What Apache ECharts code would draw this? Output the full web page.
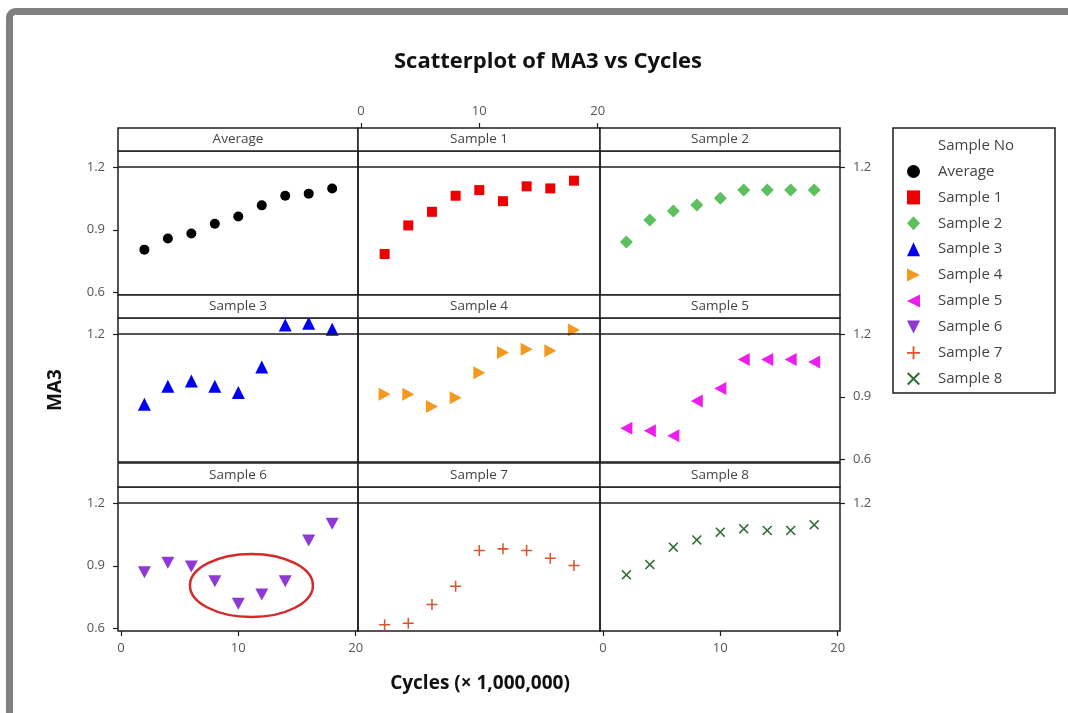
<!DOCTYPE html>
<html>
<head>
<meta charset="utf-8">
<title>Scatterplot of MA3 vs Cycles</title>
<script src="https://cdn.jsdelivr.net/npm/echarts@6/dist/echarts.min.js"></script>
<style>
  html, body { margin: 0; padding: 0; background: #fff; }
  #chart { width: 1068px; height: 713px; }
</style>
</head>
<body>
<div id="chart"></div>
<script>
// ---- data -------------------------------------------------------------
const cycles = [2, 4, 6, 8, 10, 12, 14, 16, 18];          // x 1,000,000
const panelNames = ['Average', 'Sample 1', 'Sample 2', 'Sample 3', 'Sample 4',
                    'Sample 5', 'Sample 6', 'Sample 7', 'Sample 8'];
const averageMA3 = [0.805, 0.858, 0.882, 0.929, 0.964, 1.017, 1.063, 1.073, 1.098];
const sample1MA3 = [0.784, 0.921, 0.986, 1.063, 1.090, 1.037, 1.108, 1.098, 1.135];
const sample2MA3 = [0.841, 0.947, 0.990, 1.019, 1.051, 1.090, 1.090, 1.090, 1.090];
const sample3MA3 = [0.864, 0.951, 0.975, 0.951, 0.920, 1.043, 1.244, 1.252, 1.223];
const sample4MA3 = [0.912, 0.912, 0.854, 0.896, 1.015, 1.112, 1.128, 1.120, 1.220];
const sample5MA3 = [0.749, 0.738, 0.714, 0.880, 0.940, 1.078, 1.078, 1.078, 1.067];
const sample6MA3 = [0.869, 0.914, 0.897, 0.826, 0.718, 0.763, 0.826, 1.021, 1.101];
const sample7MA3 = [0.618, 0.625, 0.715, 0.802, 0.973, 0.981, 0.973, 0.936, 0.901];
const sample8MA3 = [0.857, 0.906, 0.989, 1.024, 1.061, 1.077, 1.069, 1.069, 1.096];
const xTicks = [0, 10, 20];
const yTicks = [0.6, 0.9, 1.2];
const referenceMA3 = 1.2;

const panelValues = [averageMA3, sample1MA3, sample2MA3, sample3MA3, sample4MA3,
                     sample5MA3, sample6MA3, sample7MA3, sample8MA3];

// ---- look -------------------------------------------------------------
const FONT = '"Open Sans", "Noto Sans", sans-serif';
const INK = '#1e1e1e';
const LABEL = '#555';

const markers = [
  { symbol: 'circle', size: 10, color: '#000000' },
  { symbol: 'rect', size: 10, color: '#ee0000' },
  { symbol: 'diamond', size: 13, color: '#5cc05c' },
  { symbol: 'triangle', size: 13, color: '#0000ee' },
  { symbol: 'path://M0,0L10,5L0,10Z', size: [12, 13], color: '#f39a1e' },
  { symbol: 'path://M10,0L0,5L10,10Z', size: [12, 13], color: '#ee1dee' },
  { symbol: 'path://M0,0L10,0L5,10Z', size: [13, 12], color: '#8e38d6' },
  { symbol: 'path://M4.3,0H5.7V4.3H10V5.7H5.7V10H4.3V5.7H0V4.3H4.3Z', size: 11, color: '#d8552e' },
  { symbol: 'path://M1.1,0L5,3.9L8.9,0L10,1.1L6.1,5L10,8.9L8.9,10L5,6.1L1.1,10L0,8.9L3.9,5L0,1.1Z', size: 10, color: '#2f6f35' }
];

// panel layout (3 x 3 lattice)
const COL_LEFT = [118, 358, 600];
const COL_WIDTH = [240, 242, 240];
const STRIP_TOP = [128, 295, 463];
const ROW_TOP = [151, 318, 487];
const PANEL_H = 144;
const X_MIN = -0.25, X_MAX = 20.2;
const Y_MIN = 0.588, Y_MAX = 1.277;

// red ellipse drawn around the dip in the Sample 6 panel (data units)
const dipHighlight = { x: 11.12, y: 0.806, rx: 5.24, ry: 0.151 };

const grids = [], xAxes = [], yAxes = [], series = [], graphics = [];

const tickStyle = { show: true, length: 5, lineStyle: { color: INK, width: 1.2 } };
const labelStyle = { color: LABEL, fontSize: 13, fontFamily: FONT };

for (let i = 0; i < 9; i++) {
  const row = Math.floor(i / 3), col = i % 3;
  grids.push({
    left: COL_LEFT[col], top: ROW_TOP[row], width: COL_WIDTH[col], height: PANEL_H,
    show: true, borderColor: INK, borderWidth: 1.5, backgroundColor: 'transparent',
    containLabel: false
  });

  // x axis: labels on top of the middle column, at the bottom of the outer columns
  const xa = {
    type: 'value', gridIndex: i, min: X_MIN, max: X_MAX,
    splitLine: { show: false }, axisLine: { show: false, onZero: false },
    axisTick: { show: false }, axisLabel: { show: false }
  };
  if (row === 0 && col === 1) {
    xa.position = 'top';
    xa.offset = ROW_TOP[0] - STRIP_TOP[0];
    xa.axisTick = Object.assign({ customValues: xTicks }, tickStyle);
    xa.axisLabel = Object.assign({ show: true, customValues: xTicks, margin: 10 }, labelStyle);
  } else if (row === 2 && col !== 1) {
    xa.position = 'bottom';
    xa.axisTick = Object.assign({ customValues: xTicks }, tickStyle);
    xa.axisLabel = Object.assign({ show: true, customValues: xTicks, margin: 11 }, labelStyle);
  }
  xAxes.push(xa);

  // y axis: full scale alternates left/right by row, reference value on both sides
  const ya = {
    type: 'value', gridIndex: i, min: Y_MIN, max: Y_MAX,
    splitLine: { show: false }, axisLine: { show: false, onZero: false },
    axisTick: { show: false }, axisLabel: { show: false }
  };
  if (col !== 1) {
    const full = (col === 0) ? (row !== 1) : (row === 1);
    const vals = full ? yTicks : [referenceMA3];
    ya.position = col === 0 ? 'left' : 'right';
    ya.axisTick = Object.assign({ customValues: vals }, tickStyle);
    ya.axisLabel = Object.assign({ show: true, customValues: vals, margin: 13,
      formatter: v => v.toFixed(1) }, labelStyle);
  }
  yAxes.push(ya);

  const m = markers[i];
  series.push({
    type: 'scatter', name: panelNames[i], xAxisIndex: i, yAxisIndex: i,
    symbol: m.symbol, symbolSize: m.size,
    itemStyle: { color: m.color, opacity: 1 },
    clip: false,
    data: cycles.map((c, k) => [c, panelValues[i][k]]),
    markLine: {
      silent: true, symbol: 'none', animation: false,
      label: { show: false },
      lineStyle: { color: INK, width: 1.5, type: 'solid' },
      data: [{ yAxis: referenceMA3 }]
    }
  });

  // strip header
  graphics.push({
    type: 'rect', z: 10,
    shape: { x: COL_LEFT[col], y: STRIP_TOP[row], width: COL_WIDTH[col], height: ROW_TOP[row] - STRIP_TOP[row] },
    style: { fill: '#fff', stroke: INK, lineWidth: 1.5 }
  });
  graphics.push({
    type: 'text', z: 11,
    x: COL_LEFT[col] + COL_WIDTH[col] / 2,
    y: (STRIP_TOP[row] + ROW_TOP[row]) / 2,
    style: { text: panelNames[i], fill: '#444', font: '13.5px ' + FONT, align: 'center', verticalAlign: 'middle' }
  });
}

// highlight ellipse lives in the Sample 6 panel's coordinates
series.push({
  type: 'custom', name: 'dip', xAxisIndex: 6, yAxisIndex: 6, silent: true, clip: false,
  data: [[dipHighlight.x, dipHighlight.y, dipHighlight.rx, dipHighlight.ry]],
  renderItem: function (params, api) {
    const c = api.coord([api.value(0), api.value(1)]);
    const e = api.coord([api.value(0) + api.value(2), api.value(1) + api.value(3)]);
    return {
      type: 'ellipse',
      shape: { cx: c[0], cy: c[1], rx: e[0] - c[0], ry: c[1] - e[1] },
      style: { fill: 'transparent', stroke: '#d42a2a', lineWidth: 2.5 }
    };
  }
});

// outer frame, axis names, legend box and its heading
graphics.push(
  { type: 'rect', z: 0, shape: { x: 9.5, y: 11.5, width: 1100, height: 760, r: 6 },
    style: { fill: 'transparent', stroke: '#808080', lineWidth: 7 } },
  { type: 'text', x: 56, y: 390, rotation: Math.PI / 2,
    style: { text: 'MA3', fill: '#111', font: 'bold 19px ' + FONT, align: 'center', verticalAlign: 'middle' } },
  { type: 'text', x: 480, y: 684,
    style: { text: 'Cycles (× 1,000,000)', fill: '#111', font: 'bold 19px ' + FONT, align: 'center', verticalAlign: 'middle' } },
  { type: 'rect', shape: { x: 893, y: 128, width: 162, height: 265 },
    style: { fill: 'transparent', stroke: INK, lineWidth: 1.5 } },
  { type: 'text', x: 938, y: 146,
    style: { text: 'Sample No', fill: '#444', font: '15px ' + FONT, align: 'left', verticalAlign: 'middle' } }
);

const chart = echarts.init(document.getElementById('chart'), null, { renderer: 'canvas' });
chart.setOption({
  animation: false,
  backgroundColor: '#fff',
  title: {
    text: 'Scatterplot of MA3 vs Cycles', left: 543, top: 46, textAlign: 'center',
    textStyle: { fontFamily: FONT, fontWeight: 'bold', fontSize: 22, color: '#111' }
  },
  legend: {
    data: panelNames, orient: 'vertical', left: 907, top: 164,
    padding: 0, itemGap: 10.9, itemWidth: 13, itemHeight: 14,
    selectedMode: false,
    textStyle: { fontFamily: FONT, fontSize: 15, color: '#444', padding: [0, 0, 0, 13] }
  },
  grid: grids,
  xAxis: xAxes,
  yAxis: yAxes,
  series: series,
  graphic: graphics
});
</script>
</body>
</html>
